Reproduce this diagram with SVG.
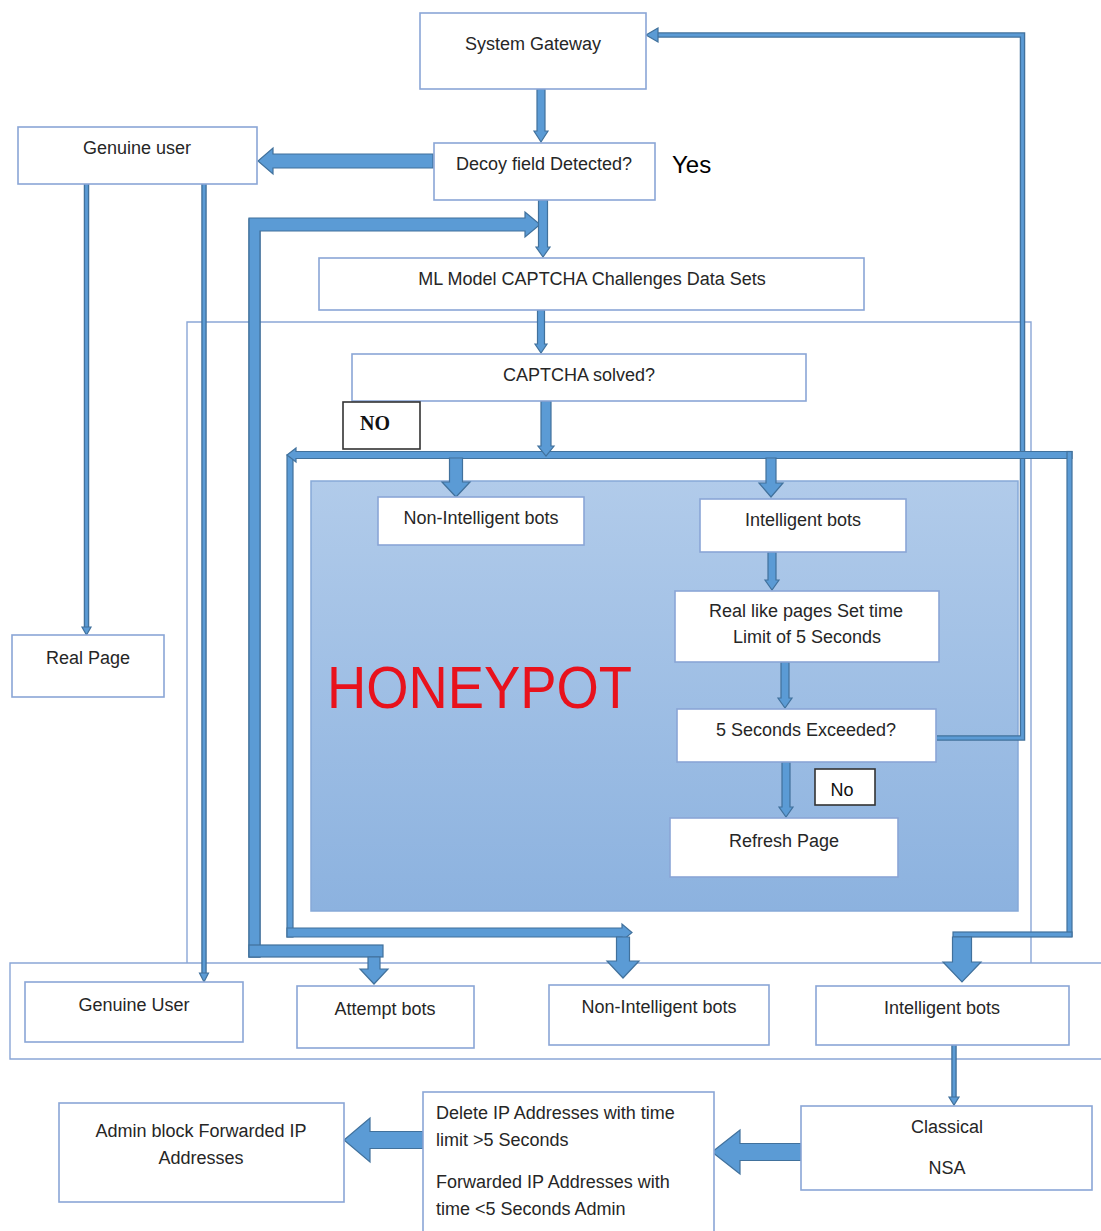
<svg xmlns="http://www.w3.org/2000/svg" width="1101" height="1231" viewBox="0 0 1101 1231">
<style>
.box{fill:#fff;stroke:#8aa6d6;stroke-width:1.6}
.frame{fill:none;stroke:#8aa6d6;stroke-width:1.4}
.lbl{fill:#000;stroke:#333;stroke-width:1.6}
.t{font-family:"Liberation Sans",Arial,sans-serif;font-size:18px;fill:#262626;text-anchor:middle}
.tl{font-family:"Liberation Sans",Arial,sans-serif;font-size:18px;fill:#262626}
.arr{fill:#5b9bd5;stroke:#41719c;stroke-width:1.2;stroke-linejoin:miter}
.thinO{fill:none;stroke:#41719c;stroke-width:5.5}
.thinI{fill:none;stroke:#5b9bd5;stroke-width:2.8}
</style>
<defs>
<linearGradient id="hp" x1="0" y1="0" x2="0" y2="1">
<stop offset="0" stop-color="#b1cbea"/>
<stop offset="1" stop-color="#8cb2df"/>
</linearGradient>
</defs>
<rect width="1101" height="1231" fill="#fff"/>

<!-- frames -->
<g id="frames">
<path class="frame" d="M187,963 V322 H1031 V963"/>
<path class="frame" d="M1101,963 H10 V1059 H1101"/>
</g>

<g id="honeypot">
<rect x="311" y="481" width="707" height="430" fill="url(#hp)" stroke="#86a9d8" stroke-width="1.5"/>
<text x="327" y="708" font-family="Liberation Sans,Arial,sans-serif" font-size="60" fill="#e8121c" textLength="305" lengthAdjust="spacingAndGlyphs">HONEYPOT</text>
</g>

<g id="connectors">
<!-- thin lines with outline -->
<path class="thinO" d="M86.5,184 V628"/><path class="thinI" d="M86.5,184 V628"/>
<polygon class="arr" points="82,627 91,627 86.5,635"/>
<path class="thinO" d="M204,184 V974"/><path class="thinI" d="M204,184 V974"/>
<polygon class="arr" points="199.5,973 208.5,973 204,982"/>
<path class="thinO" d="M937,738 H1022.5 V35 H657"/><path class="thinI" d="M937,738 H1022.5 V35 H657"/>
<polygon class="arr" points="658,28 646,35 658,42"/>
<path class="thinO" d="M954,1045 V1098"/><path class="thinI" d="M954,1045 V1098"/>
<polygon class="arr" points="949,1097 959,1097 954,1105"/>

<!-- outer left loop -->
<rect class="arr" x="249" y="219" width="11" height="738"/>
<polygon class="arr" points="249,218 525,218 525,212 540,224.5 525,237 525,231 260,231 260,957 249,957"/>
<rect class="arr" x="249" y="945" width="134" height="12"/>
<polygon class="arr" points="368,957 380,957 380,969 388,969 374,984 360,969 368,969"/>

<!-- inner left loop -->
<rect class="arr" x="287" y="455" width="6" height="482"/>
<polygon class="arr" points="287,928 622,928 622,924 632,932.5 622,941 622,937 287,937"/>
<polygon class="arr" points="616.5,937 629.5,937 629.5,961 639,961 623,978 607,961 616.5,961"/>

<!-- main horizontal bar -->
<polygon class="arr" points="296,451.5 1072,451.5 1072,458.5 296,458.5 296,462 287,455 296,448"/>
<rect class="arr" x="1067" y="451.5" width="5" height="485"/>
<rect class="arr" x="953" y="932" width="119" height="5"/>
<polygon class="arr" points="952.5,937 971.5,937 971.5,962 981,962 962,982 943,962 952.5,962"/>

<!-- vertical flow arrows -->
<polygon class="arr" points="537,89 545,89 545,131 548,131 541,142 534,131 537,131"/>
<polygon class="arr" points="538.5,200 547.5,200 547.5,247 550,247 543,257 536,247 538.5,247"/>
<polygon class="arr" points="537.5,310 544.5,310 544.5,344 547,344 541,353 535,344 537.5,344"/>
<polygon class="arr" points="541,401 551,401 551,446 554,446 546,456 538,446 541,446"/>
<polygon class="arr" points="449.5,458 462.5,458 462.5,482 470,482 456,497 442,482 449.5,482"/>
<polygon class="arr" points="766,458 776,458 776,483 783,483 771,497 759,483 766,483"/>
<polygon class="arr" points="768,552 776,552 776,580 779,580 772,590 765,580 768,580"/>
<polygon class="arr" points="781,662 789,662 789,698 792,698 785,708 778,698 781,698"/>
<polygon class="arr" points="782,762 790,762 790,807 793,807 786,817 779,807 782,807"/>

<!-- horizontal block arrows -->
<polygon class="arr" points="433,154 273,154 273,148 258,161 273,174 273,168 433,168"/>
<polygon class="arr" points="801,1143.5 740,1143.5 740,1130 712,1152 740,1174 740,1160.5 801,1160.5"/>
<polygon class="arr" points="423,1131.5 370,1131.5 370,1118 344,1140 370,1162 370,1148.5 423,1148.5"/>
</g>

<g id="n-gateway"><rect class="box" x="420" y="13" width="226" height="76"/><text class="t" x="533" y="50">System Gateway</text></g>
<g id="n-genuine-user-top"><rect class="box" x="18" y="127" width="239" height="57"/><text class="t" x="137" y="154">Genuine user</text></g>
<g id="n-decoy"><rect class="box" x="434" y="143" width="221" height="57"/><text class="t" x="544" y="170">Decoy field Detected?</text></g>
<g id="l-yes"><text x="672" y="173" font-family="Liberation Sans,Arial,sans-serif" font-size="24" fill="#000">Yes</text></g>
<g id="n-ml"><rect class="box" x="319" y="258" width="545" height="52"/><text class="t" x="592" y="285">ML Model CAPTCHA Challenges Data Sets</text></g>
<g id="n-captcha"><rect class="box" x="352" y="354" width="454" height="47"/><text class="t" x="579" y="381">CAPTCHA solved?</text></g>
<g id="l-no"><rect x="343" y="402" width="77" height="47" fill="#fff" stroke="#333" stroke-width="1.6"/><text x="375" y="430" font-family="Liberation Serif,Times New Roman,serif" font-size="20" font-weight="bold" fill="#111" text-anchor="middle">NO</text></g>
<g id="n-nonint-in"><rect class="box" x="378" y="497" width="206" height="48"/><text class="t" x="481" y="524">Non-Intelligent bots</text></g>
<g id="n-int-in"><rect class="box" x="700" y="499" width="206" height="53"/><text class="t" x="803" y="526">Intelligent bots</text></g>
<g id="n-reallike"><rect class="box" x="675" y="591" width="264" height="71"/><text class="t" x="806" y="617">Real like pages Set time</text><text class="t" x="807" y="643">Limit of 5 Seconds</text></g>
<g id="n-5s"><rect class="box" x="677" y="709" width="259" height="53"/><text class="t" x="806" y="736">5 Seconds Exceeded?</text></g>
<g id="l-no2"><rect x="815" y="769" width="60" height="36" fill="#fff" stroke="#333" stroke-width="1.6"/><text x="842" y="796" font-family="Liberation Sans,Arial,sans-serif" font-size="18" fill="#111" text-anchor="middle">No</text></g>
<g id="n-refresh"><rect class="box" x="670" y="818" width="228" height="59"/><text class="t" x="784" y="847">Refresh Page</text></g>
<g id="n-realpage"><rect class="box" x="12" y="635" width="152" height="62"/><text class="t" x="88" y="664">Real Page</text></g>
<g id="n-genuine-bottom"><rect class="box" x="25" y="982" width="218" height="60"/><text class="t" x="134" y="1011">Genuine User</text></g>
<g id="n-attempt"><rect class="box" x="297" y="986" width="177" height="62"/><text class="t" x="385" y="1015">Attempt bots</text></g>
<g id="n-nonint-out"><rect class="box" x="549" y="985" width="220" height="60"/><text class="t" x="659" y="1013">Non-Intelligent bots</text></g>
<g id="n-int-out"><rect class="box" x="816" y="986" width="253" height="59"/><text class="t" x="942" y="1014">Intelligent bots</text></g>
<g id="n-classical"><rect class="box" x="801" y="1106" width="291" height="84"/><text class="t" x="947" y="1133">Classical</text><text class="t" x="947" y="1174">NSA</text></g>
<g id="n-delete"><rect class="box" x="423" y="1092" width="291" height="150"/><text class="tl" x="436" y="1119">Delete IP Addresses with  time</text><text class="tl" x="436" y="1146">limit &gt;5 Seconds</text><text class="tl" x="436" y="1188">Forwarded IP Addresses with</text><text class="tl" x="436" y="1215">time &lt;5 Seconds Admin</text></g>
<g id="n-admin"><rect class="box" x="59" y="1103" width="285" height="99"/><text class="t" x="201" y="1137">Admin block Forwarded IP</text><text class="t" x="201" y="1164">Addresses</text></g>
</svg>
